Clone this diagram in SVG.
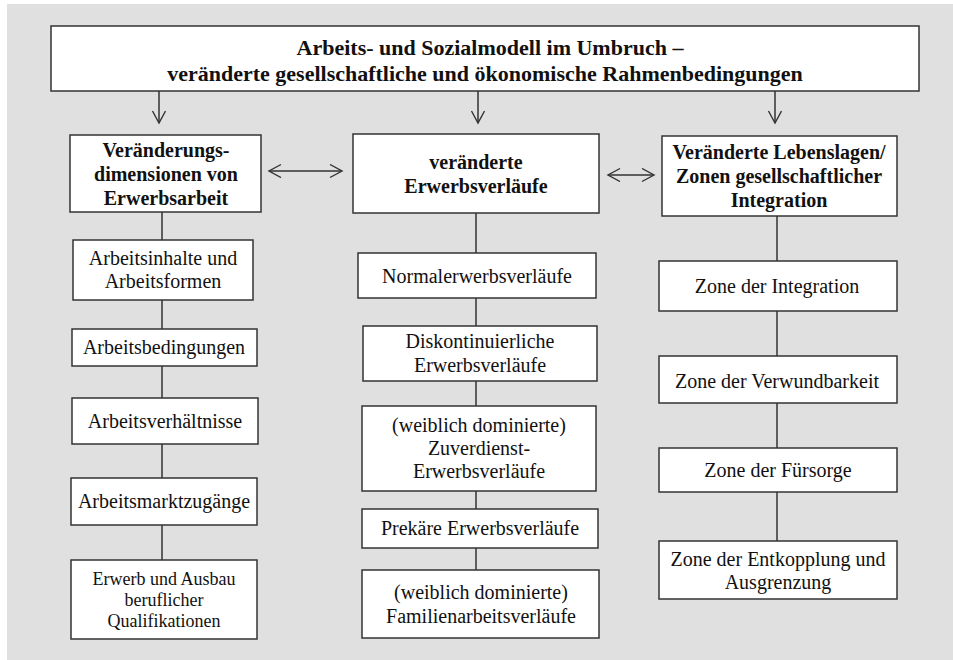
<svg xmlns="http://www.w3.org/2000/svg" width="953" height="660" viewBox="0 0 953 660">
<style>
.bx{fill:#fff;stroke:#333;stroke-width:1.5}
.t{font-family:"Liberation Serif","Times New Roman",serif;font-size:20px;fill:#111;text-anchor:middle}
.b{font-weight:bold}
.s{font-size:18px}
.ttl{font-size:22px}
.ln{stroke:#333;stroke-width:1.5;fill:none}
</style>
<defs>
<marker id="ah" markerUnits="userSpaceOnUse" markerWidth="16" markerHeight="16" refX="13" refY="7" orient="auto-start-reverse">
<path d="M1,0.5 L13,7 L1,13.5" fill="none" stroke="#333" stroke-width="1.4"/>
</marker>
</defs>
<rect x="7" y="4" width="946" height="656" fill="#e0e0e0"/>
<g id="connectors">
<line class="ln" x1="159" y1="91" x2="159" y2="123" marker-end="url(#ah)"/>
<line class="ln" x1="478" y1="91" x2="478" y2="123" marker-end="url(#ah)"/>
<line class="ln" x1="775" y1="91" x2="775" y2="123" marker-end="url(#ah)"/>
<line class="ln" x1="269" y1="171" x2="342" y2="171" marker-start="url(#ah)" marker-end="url(#ah)"/>
<line class="ln" x1="608" y1="175" x2="654" y2="175" marker-start="url(#ah)" marker-end="url(#ah)"/>
<line class="ln" x1="162" y1="212" x2="162" y2="240"/>
<line class="ln" x1="162" y1="300" x2="162" y2="329"/>
<line class="ln" x1="162" y1="366" x2="162" y2="398"/>
<line class="ln" x1="162" y1="444" x2="162" y2="478"/>
<line class="ln" x1="162" y1="525" x2="162" y2="560"/>
<line class="ln" x1="476" y1="213" x2="476" y2="253"/>
<line class="ln" x1="476" y1="298" x2="476" y2="326"/>
<line class="ln" x1="476" y1="381" x2="476" y2="406"/>
<line class="ln" x1="476" y1="491" x2="476" y2="509"/>
<line class="ln" x1="476" y1="548" x2="476" y2="570"/>
<line class="ln" x1="777" y1="216" x2="777" y2="261"/>
<line class="ln" x1="777" y1="311" x2="777" y2="356"/>
<line class="ln" x1="777" y1="403" x2="777" y2="448"/>
<line class="ln" x1="777" y1="492" x2="777" y2="541"/>
</g>
<g id="top">
<rect class="bx" x="51" y="26" width="868" height="65"/>
<text class="t b ttl" x="490" y="55">Arbeits- und Sozialmodell im Umbruch –</text>
<text class="t b ttl" x="485" y="81">veränderte gesellschaftliche und ökonomische Rahmenbedingungen</text>
</g>
<g id="h1">
<rect class="bx" x="70" y="135" width="191" height="77"/>
<text class="t b" x="166" y="157">Veränderungs-</text>
<text class="t b" x="166" y="181">dimensionen von</text>
<text class="t b" x="166" y="205">Erwerbsarbeit</text>
</g>
<g id="l1">
<rect class="bx" x="73" y="240" width="180" height="60"/>
<text class="t" x="163" y="265">Arbeitsinhalte und</text>
<text class="t" x="163" y="288">Arbeitsformen</text>
</g>
<g id="l2">
<rect class="bx" x="72" y="329" width="185" height="37"/>
<text class="t" x="164" y="354">Arbeitsbedingungen</text>
</g>
<g id="l3">
<rect class="bx" x="72" y="398" width="186" height="46"/>
<text class="t" x="165" y="428">Arbeitsverhältnisse</text>
</g>
<g id="l4">
<rect class="bx" x="71" y="478" width="186" height="47"/>
<text class="t" x="164" y="508">Arbeitsmarktzugänge</text>
</g>
<g id="l5">
<rect class="bx" x="71" y="560" width="186" height="79"/>
<text class="t s" x="164" y="585">Erwerb und Ausbau</text>
<text class="t s" x="164" y="606">beruflicher</text>
<text class="t s" x="164" y="627">Qualifikationen</text>
</g>
<g id="h2">
<rect class="bx" x="353" y="134" width="246" height="79"/>
<text class="t b" x="476" y="169">veränderte</text>
<text class="t b" x="476" y="193">Erwerbsverläufe</text>
</g>
<g id="m1">
<rect class="bx" x="358" y="253" width="238" height="45"/>
<text class="t" x="477" y="283">Normalerwerbsverläufe</text>
</g>
<g id="m2">
<rect class="bx" x="363" y="326" width="234" height="55"/>
<text class="t" x="480" y="348">Diskontinuierliche</text>
<text class="t" x="480" y="372">Erwerbsverläufe</text>
</g>
<g id="m3">
<rect class="bx" x="362" y="406" width="234" height="85"/>
<text class="t" x="479" y="432">(weiblich dominierte)</text>
<text class="t" x="479" y="455">Zuverdienst-</text>
<text class="t" x="479" y="478">Erwerbsverläufe</text>
</g>
<g id="m4">
<rect class="bx" x="362" y="509" width="236" height="39"/>
<text class="t" x="480" y="535">Prekäre Erwerbsverläufe</text>
</g>
<g id="m5">
<rect class="bx" x="362" y="570" width="237" height="68"/>
<text class="t" x="481" y="599">(weiblich dominierte)</text>
<text class="t" x="481" y="623">Familienarbeitsverläufe</text>
</g>
<g id="h3">
<rect class="bx" x="662" y="136" width="235" height="80"/>
<text class="t b" x="779" y="159">Veränderte Lebenslagen/</text>
<text class="t b" x="779" y="183">Zonen gesellschaftlicher</text>
<text class="t b" x="779" y="207">Integration</text>
</g>
<g id="r1">
<rect class="bx" x="659" y="261" width="238" height="50"/>
<text class="t" x="777" y="293">Zone der Integration</text>
</g>
<g id="r2">
<rect class="bx" x="659" y="356" width="238" height="47"/>
<text class="t" x="777" y="388">Zone der Verwundbarkeit</text>
</g>
<g id="r3">
<rect class="bx" x="659" y="448" width="238" height="44"/>
<text class="t" x="778" y="477">Zone der Fürsorge</text>
</g>
<g id="r4">
<rect class="bx" x="659" y="541" width="238" height="58"/>
<text class="t" x="778" y="566">Zone der Entkopplung und</text>
<text class="t" x="778" y="589">Ausgrenzung</text>
</g>
</svg>
